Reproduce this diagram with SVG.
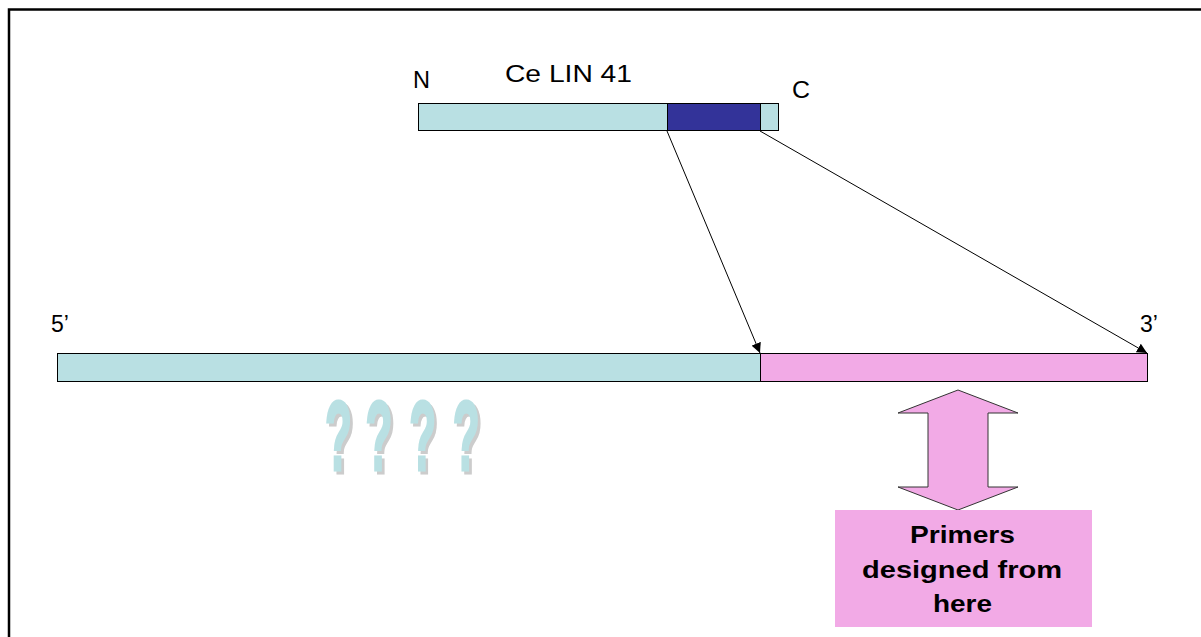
<svg xmlns="http://www.w3.org/2000/svg" width="1201" height="637" viewBox="0 0 1201 637">
  <style>
    .lbl { font-family: "Liberation Sans", Arial, sans-serif; font-size: 23px; fill: #000; }
    .bar { stroke: #000; stroke-width: 1; }
    .cyan { fill: #b9e0e3; }
    .pink { fill: #f2aae6; }
    .dom { fill: #333399; }
    .conn { stroke: #000; stroke-width: 1; fill: none; }
    .q { font-family: "Liberation Sans", Arial, sans-serif; font-weight: bold; font-size: 98px; stroke-width: 3; }
    .big { font-family: "Liberation Sans", Arial, sans-serif; font-weight: bold; font-size: 24px; fill: #000; text-anchor: middle; }
  </style>
  <defs>
    <marker id="ah" viewBox="0 0 10 10" refX="10" refY="5" markerWidth="10" markerHeight="10" markerUnits="userSpaceOnUse" orient="auto">
      <path d="M0,0 L10,5 L0,10 z" fill="#000"/>
    </marker>
  </defs>
  <rect width="1201" height="637" fill="#fff"/>
  <!-- frame edges -->
  <path d="M9,637 V9.5 H1201" fill="none" stroke="#000" stroke-width="2.5"/>

  <g id="protein">
    <rect class="bar cyan" x="418.5" y="103.5" width="360" height="27"/>
    <rect class="bar dom" x="667.5" y="103.5" width="93" height="27"/>
    <text class="lbl" x="413" y="88" textLength="17" lengthAdjust="spacingAndGlyphs">N</text>
    <text class="lbl" x="505" y="82" font-size="25" textLength="127" lengthAdjust="spacingAndGlyphs">Ce LIN 41</text>
    <text class="lbl" x="792" y="98" textLength="18" lengthAdjust="spacingAndGlyphs">C</text>
  </g>

  <g id="gene">
    <rect class="bar cyan" x="57.5" y="353.5" width="703" height="28"/>
    <rect class="bar pink" x="760.5" y="353.5" width="387" height="28"/>
    <text class="lbl" x="51" y="332" font-size="25">5’</text>
    <text class="lbl" x="1140" y="332" font-size="25">3’</text>
  </g>

  <g id="unknown">
    <g transform="translate(325,470) scale(0.45,1)">
      <text class="q" x="6 96 193 290" y="3" fill="#cccccc" stroke="#cccccc">????</text>
      <text class="q" x="0 90 187 284" y="0" fill="#b9e0e3" stroke="#b9e0e3">????</text>
    </g>
  </g>

  <g id="primers">
    <path class="pink" stroke="#333" stroke-width="1" d="M958,390 L1018,413 L988,413 L988,487 L1018,487 L958,510 L898,487 L928,487 L928,413 L898,413 Z"/>
    <rect class="pink" x="835" y="510" width="257" height="117"/>
    <text class="big" x="962.5" y="543" textLength="105" lengthAdjust="spacingAndGlyphs">Primers</text>
    <text class="big" x="962" y="578" textLength="200" lengthAdjust="spacingAndGlyphs">designed from</text>
    <text class="big" x="962.5" y="612" textLength="59" lengthAdjust="spacingAndGlyphs">here</text>
  </g>

  <g id="connectors">
    <line class="conn" x1="667" y1="131" x2="760" y2="353" marker-end="url(#ah)"/>
    <line class="conn" x1="760" y1="131" x2="1147" y2="353" marker-end="url(#ah)"/>
  </g>
</svg>
